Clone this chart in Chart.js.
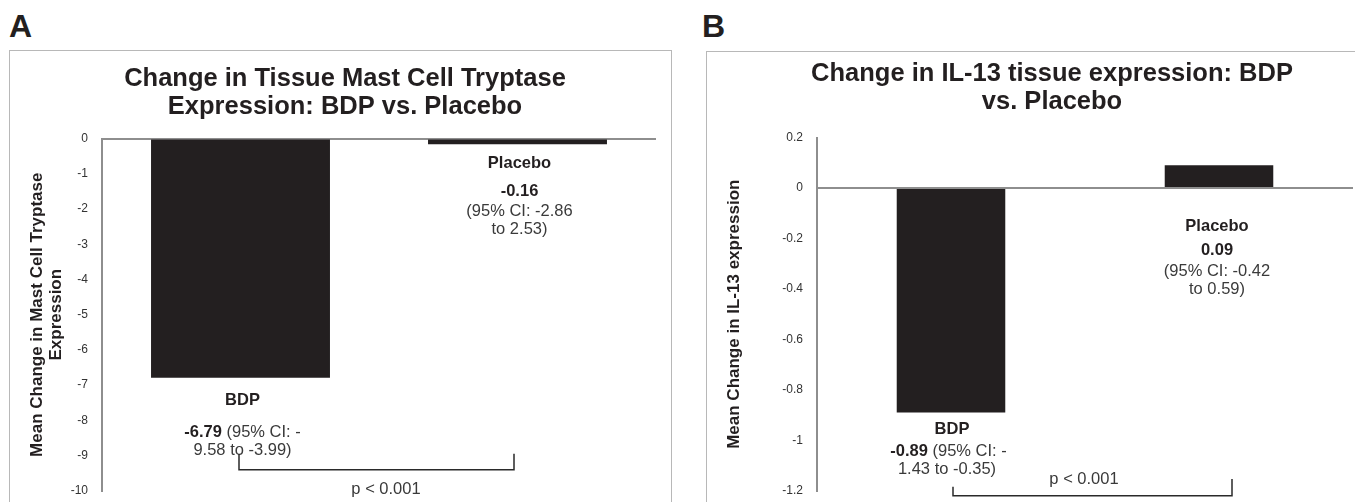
<!DOCTYPE html>
<html>
<head>
<meta charset="utf-8">
<script src="https://cdn.jsdelivr.net/npm/chart.js@4"></script>
<style>
    body { margin: 0; width: 1355px; height: 502px; overflow: hidden; background: #fff; position: relative; font-family: "Liberation Sans", Arial, sans-serif; }
    .letter { position: absolute; font-size: 32px; font-weight: bold; line-height: 32px; color: #231f20; }
    .box { position: absolute; border: 1.5px solid #b8b8b8; }
    canvas { position: absolute; }
</style>
</head>
<body>
<div class="letter" style="left:9px;top:10px">A</div>
<div class="letter" style="left:702px;top:10px">B</div>
<div class="box" style="left:9px;top:50px;width:661px;height:480px"></div>
<div class="box" style="left:706px;top:51px;width:700px;height:480px"></div>
<canvas id="tryptaseChart" width="668" height="459" style="left:11px;top:53px"></canvas>
<canvas id="il13Chart" width="688" height="459" style="left:708px;top:53px"></canvas>

<script>
const categories = ['BDP', 'Placebo'];
const tryptaseChange = [-6.79, -0.16];
const il13Change = [-0.89, 0.09];

const tryptaseTicks = [0, -1, -2, -3, -4, -5, -6, -7, -8, -9, -10];
const tryptaseTickLabels = ['0', '-1', '-2', '-3', '-4', '-5', '-6', '-7', '-8', '-9', '-10'];
const il13Ticks = [0.2, 0, -0.2, -0.4, -0.6, -0.8, -1, -1.2];
const il13TickLabels = ['0.2', '0', '-0.2', '-0.4', '-0.6', '-0.8', '-1', '-1.2'];

const tryptaseMean = ['-6.79', '-0.16'];
const tryptaseCI = [['(95% CI: -', '9.58 to -3.99)'], ['(95% CI: -2.86', 'to 2.53)']];
const il13Mean = ['-0.89', '0.09'];
const il13CI = [['(95% CI: -', '1.43 to -0.35)'], ['(95% CI: -0.42', 'to 0.59)']];

Chart.defaults.font.family = '"Liberation Sans", Arial, sans-serif';
Chart.defaults.color = '#333';

const BAR = '#231f20';
const AXIS = '#8e8e8e';
const FONT = '"Liberation Sans", Arial, sans-serif';
const NOTE_SIZE = 16.5;

// text labels + significance bracket under the bars
const notesPlugin = {
    id: 'notes',
    afterDatasetsDraw(chart, args, opts) {
        const { ctx, scales: { x, y } } = chart;
        ctx.save();
        ctx.textBaseline = 'middle';
        ctx.textAlign = 'left';
        opts.items.forEach(it => {
            const cx = x.getPixelForValue(it.cat) + (it.dx || 0);
            const cy = y.getPixelForValue(it.v);
            let total = 0;
            it.parts.forEach(p => {
                ctx.font = (p.bold ? 'bold ' : '') + NOTE_SIZE + 'px ' + FONT;
                total += ctx.measureText(p.t).width;
            });
            let px = cx - total / 2;
            it.parts.forEach(p => {
                ctx.font = (p.bold ? 'bold ' : '') + NOTE_SIZE + 'px ' + FONT;
                ctx.fillStyle = p.bold ? '#231f20' : '#3a3a3a';
                ctx.fillText(p.t, px, cy);
                px += ctx.measureText(p.t).width;
            });
        });
        const b = opts.bracket;
        const x0 = x.getPixelForValue(0) + b.dx0;
        const x1 = x.getPixelForValue(1) + b.dx1;
        ctx.strokeStyle = '#2a2a2a';
        ctx.lineWidth = 1.5;
        ctx.beginPath();
        ctx.moveTo(x0, y.getPixelForValue(b.top0));
        ctx.lineTo(x0, y.getPixelForValue(b.bottom));
        ctx.lineTo(x1, y.getPixelForValue(b.bottom));
        ctx.lineTo(x1, y.getPixelForValue(b.top1));
        ctx.stroke();
        ctx.restore();
    }
};

function makeChart(id, values, ticks, tickLabels, opt) {
    return new Chart(document.getElementById(id), {
        type: 'bar',
        data: {
            labels: categories,
            datasets: [{ data: values, backgroundColor: BAR, barPercentage: opt.barPct, categoryPercentage: 1 }]
        },
        options: {
            responsive: false,
            animation: false,
            layout: { padding: { left: opt.padLeft, right: opt.padRight, top: 0, bottom: 2 } },
            plugins: {
                legend: { display: false },
                tooltip: { enabled: false },
                title: {
                    display: true,
                    text: opt.title,
                    color: '#231f20',
                    font: { size: 25.5, weight: 'bold', lineHeight: 1.1 },
                    padding: { top: opt.titleTop, bottom: opt.titleBottom }
                },
                notes: opt.notes
            },
            scales: {
                x: { display: false },
                y: {
                    min: ticks[ticks.length - 1],
                    max: ticks[0],
                    afterBuildTicks: s => { s.ticks = ticks.map(v => ({ value: v })); },
                    afterFit: s => { s.width = opt.axisWidth; },
                    ticks: {
                        padding: 14,
                        color: '#333',
                        font: { size: 12 },
                        callback: v => tickLabels[ticks.indexOf(v)]
                    },
                    grid: {
                        drawTicks: false,
                        lineWidth: 2,
                        color: c => (c.tick && c.tick.value === 0) ? AXIS : 'transparent'
                    },
                    border: { display: true, color: AXIS, width: 2 },
                    title: {
                        display: true,
                        text: opt.yTitle,
                        color: '#231f20',
                        font: { size: 17, weight: 'bold', lineHeight: 1.15 },
                        padding: { top: opt.yTitlePad, bottom: 0 }
                    }
                }
            }
        },
        plugins: [notesPlugin]
    });
}

// panel A
makeChart('tryptaseChart', tryptaseChange, tryptaseTicks, tryptaseTickLabels, {
    barPct: 0.646, padLeft: 23, padRight: 23, axisWidth: 68, yTitlePad: -6.8,
    titleTop: 12, titleBottom: 17.5,
    title: ['Change in Tissue Mast Cell Tryptase', 'Expression: BDP vs. Placebo'],
    yTitle: ['Mean Change in Mast Cell Tryptase', 'Expression'],
    notes: {
        items: [
            { cat: 1, dx: 2, v: -0.71, parts: [{ t: categories[1], bold: true }] },
            { cat: 1, dx: 2, v: -1.51, parts: [{ t: tryptaseMean[1], bold: true }] },
            { cat: 1, dx: 2, v: -2.07, parts: [{ t: tryptaseCI[1][0] }] },
            { cat: 1, dx: 2, v: -2.59, parts: [{ t: tryptaseCI[1][1] }] },
            { cat: 0, dx: 2, v: -7.44, parts: [{ t: categories[0], bold: true }] },
            { cat: 0, dx: 2, v: -8.35, parts: [{ t: tryptaseMean[0], bold: true }, { t: ' ' + tryptaseCI[0][0] }] },
            { cat: 0, dx: 2, v: -8.86, parts: [{ t: tryptaseCI[0][1] }] },
            { cat: 0.5, dx: 7, v: -9.97, parts: [{ t: 'p < 0.001' }] }
        ],
        bracket: { dx0: -1.5, dx1: -3.5, top0: -8.95, top1: -8.95, bottom: -9.4 }
    }
});

// panel B
makeChart('il13Chart', il13Change, il13Ticks, il13TickLabels, {
    barPct: 0.405, padLeft: 43, padRight: 43, axisWidth: 66, yTitlePad: -26.8,
    titleTop: 7, titleBottom: 21.5,
    title: ['Change in IL-13 tissue expression: BDP', 'vs. Placebo'],
    yTitle: 'Mean Change in IL-13 expression',
    notes: {
        items: [
            { cat: 1, dx: -2, v: -0.153, parts: [{ t: categories[1], bold: true }] },
            { cat: 1, dx: -2, v: -0.248, parts: [{ t: il13Mean[1], bold: true }] },
            { cat: 1, dx: -2, v: -0.332, parts: [{ t: il13CI[1][0] }] },
            { cat: 1, dx: -2, v: -0.403, parts: [{ t: il13CI[1][1] }] },
            { cat: 0, dx: 1, v: -0.958, parts: [{ t: categories[0], bold: true }] },
            { cat: 0, dx: -2.5, v: -1.046, parts: [{ t: il13Mean[0], bold: true }, { t: ' ' + il13CI[0][0] }] },
            { cat: 0, dx: -4, v: -1.117, parts: [{ t: il13CI[0][1] }] },
            { cat: 0.5, dx: -1, v: -1.157, parts: [{ t: 'p < 0.001' }] }
        ],
        bracket: { dx0: 2, dx1: 13, top0: -1.184, top1: -1.153, bottom: -1.22 }
    }
});
</script>
</body>
</html>
